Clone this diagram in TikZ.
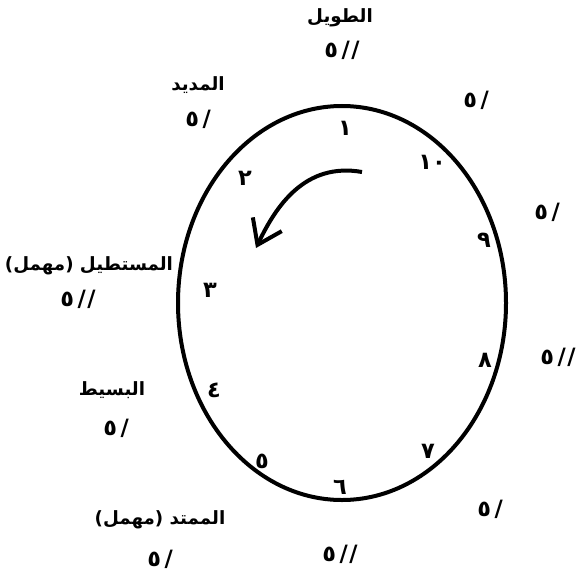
\documentclass[tikz,border=0pt]{standalone}
\usepackage{fontspec}
\usetikzlibrary{arrows.meta}
\TeXXeTstate=1
\newfontfamily\arabicfont[Script=Arabic]{DejaVu Sans}

\newcommand{\sukun}{٥\kern2.5pt}
\newcommand{\haraka}{/\kern1pt}

\tikzset{
  metre/.style={font=\arabicfont\bfseries\fontsize{13}{15}\selectfont, inner sep=0pt},
  marks/.style={font=\arabicfont\bfseries\fontsize{16}{18}\selectfont, inner sep=0pt},
  digit/.style={font=\arabicfont\bfseries\fontsize{16}{18}\selectfont, inner sep=0pt},
  ring/.style={line width=1mm},
  turn/.style={line width=1mm, -{Straight Barb[length=5.7mm, width=8mm]}},
}

\begin{document}
\begin{tikzpicture}[x=0.25mm, y=-0.25mm]
    \useasboundingbox (0,0) rectangle (580,575);

    % the circle
    \coordinate (centre) at (342,303);
    \draw[ring] (centre) ellipse [x radius=164, y radius=197];

    % metres round the circle
    \node[metre] (tawil) at (340,18) {\beginR الطويل\endR};
    \node[marks] (tawilmark) at (342,50) {\sukun\haraka/};
    \node[metre] (madid) at (198,85) {\beginR المديد\endR};
    \node[marks] (madidmark) at (198,119) {\sukun/};
    \node[metre] (mustatil) at (89,266) {\beginR المستطيل (مهمل)\endR};
    \node[marks] (mustatilmark) at (78,299) {\sukun\haraka/};
    \node[metre] (basit) at (112,390) {\beginR البسيط\endR};
    \node[marks] (basitmark) at (116,428) {\sukun/};
    \node[metre] (mumtadd) at (160,520) {\beginR الممتد (مهمل)\endR};
    \node[marks] (mumtaddmark) at (160,559) {\sukun/};

    % marks on the right
    \node[marks] (markne) at (476,100) {\sukun/};
    \node[marks] (markeast) at (547,212) {\sukun/};
    \node[marks] (markright) at (558,357) {\sukun\haraka/};
    \node[marks] (markse) at (490,509) {\sukun/};
    \node[marks] (marksouth) at (340,554) {\sukun\haraka/};

    % numbers inside
    \node[digit] (d1) at (345,128) {١};
    \node[digit] (d2) at (245,178) {٢};
    \node[digit] (d3) at (210,290) {٣};
    \node[digit] (d4) at (214,390) {٤};
    \node[digit] (d5) at (262,461) {٥};
    \node[digit] (d6) at (340,487) {٦};
    \node[digit] (d7) at (428,451) {٧};
    \node[digit] (d8) at (485,360) {٨};
    \node[digit] (d9) at (484,240) {٩};
    \node[digit] (d10) at (432,162) {١٠};

    % direction of reading
    \coordinate (turnstart) at (362,172);
    \coordinate (turnend) at (256,248);
    \draw[turn] (turnstart) .. controls (305,162) and (276,206) .. (turnend);
\end{tikzpicture}
\end{document}
